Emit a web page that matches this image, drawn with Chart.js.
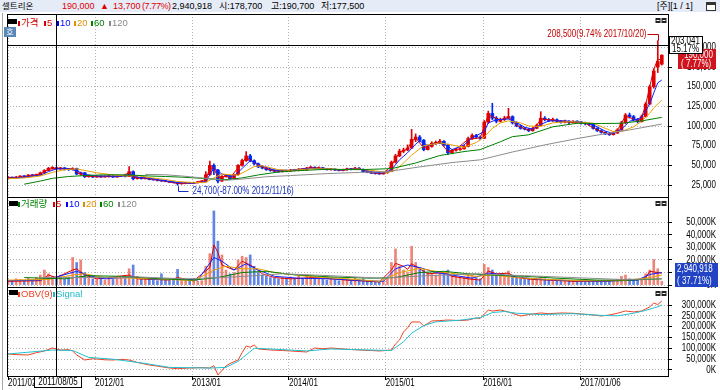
<!DOCTYPE html>
<html><head><meta charset="utf-8">
<script src="https://cdn.jsdelivr.net/npm/chart.js@4.4.1/dist/chart.umd.min.js"></script>
<style>
body{margin:0;background:#fff;width:720px;height:390px;overflow:hidden;position:relative;}
#c{position:absolute;left:0;top:0;}
#hdr{position:absolute;left:0;top:0;width:720px;height:12px;background:#e6ecf7;}
.t{position:absolute;top:0;white-space:nowrap;font:9px "Liberation Sans","Noto Sans CJK KR",sans-serif;line-height:12px;color:#000;}
.k{font-size:8.5px;}
.lg{position:absolute;white-space:nowrap;font:9.5px "Liberation Sans","Noto Sans CJK KR",sans-serif;line-height:10px;}
.sq{position:absolute;width:2px;height:5px;}
.btn{position:absolute;width:9px;height:5px;background:#000;}
#ho{position:absolute;left:4px;top:27px;width:12px;height:10px;background:#5b86b8;color:#fff;font:8px "Noto Sans CJK KR";line-height:10px;text-align:center;}
#lft{position:absolute;left:2px;top:13px;width:1px;height:377px;background:#a8a8a8;}
</style></head>
<body>
<canvas id="c" width="720" height="390"></canvas>
<div id="hdr"></div>
<span class="t k" style="left:2px">셀트리온</span>
<span class="t" style="left:62px;color:#e00000">190,000</span>
<span class="t" style="left:100px;color:#e00000">▲</span>
<span class="t" style="left:113px;color:#e00000">13,700</span>
<span class="t" style="left:142px;color:#e00000;letter-spacing:-0.4px">(7.77%)</span>
<span class="t" style="left:172px">2,940,918</span>
<span class="t" style="left:219px">시:178,700</span>
<span class="t" style="left:271px">고:190,700</span>
<span class="t" style="left:321px">저:177,500</span>
<span class="t" style="left:657px">[주][1 / 1]</span>
<div style="position:absolute;left:706px;top:2px;width:8px;height:7px;border:1px solid #333;background:#fff"><div style="height:2px;background:#333"></div></div>
<div id="lft"></div>

<div class="btn" style="left:8px;top:19px"></div>
<div class="sq" style="left:18px;top:21px;background:#d00000"></div><span class="lg" style="left:21px;top:18px;color:#d00000">가격</span>
<div class="sq" style="left:44px;top:21px;background:#e00000"></div><span class="lg" style="left:47px;top:18px;color:#e00000">5</span>
<div class="sq" style="left:57px;top:21px;background:#0000ff"></div><span class="lg" style="left:60px;top:18px;color:#0000ff">10</span>
<div class="sq" style="left:74px;top:21px;background:#e09000"></div><span class="lg" style="left:77px;top:18px;color:#e09000">20</span>
<div class="sq" style="left:91px;top:21px;background:#008000"></div><span class="lg" style="left:94px;top:18px;color:#008000">60</span>
<div class="sq" style="left:109px;top:21px;background:#888"></div><span class="lg" style="left:112px;top:18px;color:#888">120</span>
<div id="ho">호</div>

<div class="btn" style="left:9px;top:201px"></div>
<div class="sq" style="left:18px;top:202px;background:#008000"></div><span class="lg" style="left:21px;top:199px;color:#008000">거래량</span>
<div class="sq" style="left:53px;top:202px;background:#e00000"></div><span class="lg" style="left:56px;top:199px;color:#e00000">5</span>
<div class="sq" style="left:66px;top:202px;background:#0000ff"></div><span class="lg" style="left:69px;top:199px;color:#0000ff">10</span>
<div class="sq" style="left:83px;top:202px;background:#e09000"></div><span class="lg" style="left:86px;top:199px;color:#e09000">20</span>
<div class="sq" style="left:100px;top:202px;background:#008000"></div><span class="lg" style="left:103px;top:199px;color:#008000">60</span>
<div class="sq" style="left:118px;top:202px;background:#888"></div><span class="lg" style="left:121px;top:199px;color:#888">120</span>

<div class="btn" style="left:9px;top:290px"></div>
<div class="sq" style="left:18px;top:292px;background:#f04020"></div><span class="lg" style="left:21px;top:289px;color:#f04020">OBV(9)</span>
<div class="sq" style="left:53px;top:292px;background:#20b8c8"></div><span class="lg" style="left:56px;top:289px;color:#20b8c8">Signal</span>

<script>
// ---------------- DATA ----------------
const dates = [
"2011/02/08","2011/02/23","2011/03/08","2011/03/23","2011/04/08","2011/04/23","2011/05/08","2011/05/23","2011/06/08","2011/06/23","2011/07/08","2011/07/23","2011/08/08","2011/08/23","2011/09/08","2011/09/23","2011/10/08","2011/10/23","2011/11/08","2011/11/23","2011/12/08","2011/12/23",
"2012/01/08","2012/01/23","2012/02/08","2012/02/23","2012/03/08","2012/03/23","2012/04/08","2012/04/23","2012/05/08","2012/05/23","2012/06/08","2012/06/23","2012/07/08","2012/07/23","2012/08/08","2012/08/23","2012/09/08","2012/09/23","2012/10/08","2012/10/23","2012/11/08","2012/11/23","2012/12/08","2012/12/23",
"2013/01/08","2013/01/23","2013/02/08","2013/02/23","2013/03/08","2013/03/23","2013/04/08","2013/04/23","2013/05/08","2013/05/23","2013/06/08","2013/06/23","2013/07/08","2013/07/23","2013/08/08","2013/08/23","2013/09/08","2013/09/23","2013/10/08","2013/10/23","2013/11/08","2013/11/23","2013/12/08","2013/12/23",
"2014/01/08","2014/01/23","2014/02/08","2014/02/23","2014/03/08","2014/03/23","2014/04/08","2014/04/23","2014/05/08","2014/05/23","2014/06/08","2014/06/23","2014/07/08","2014/07/23","2014/08/08","2014/08/23","2014/09/08","2014/09/23","2014/10/08","2014/10/23","2014/11/08","2014/11/23","2014/12/08","2014/12/23",
"2015/01/08","2015/01/23","2015/02/08","2015/02/23","2015/03/08","2015/03/23","2015/04/08","2015/04/23","2015/05/08","2015/05/23","2015/06/08","2015/06/23","2015/07/08","2015/07/23","2015/08/08","2015/08/23","2015/09/08","2015/09/23","2015/10/08","2015/10/23","2015/11/08","2015/11/23","2015/12/08","2015/12/23",
"2016/01/08","2016/01/23","2016/02/08","2016/02/23","2016/03/08","2016/03/23","2016/04/08","2016/04/23","2016/05/08","2016/05/23","2016/06/08","2016/06/23","2016/07/08","2016/07/23","2016/08/08","2016/08/23","2016/09/08","2016/09/23","2016/10/08","2016/10/23","2016/11/08","2016/11/23","2016/12/08","2016/12/23",
"2017/01/08","2017/01/23","2017/02/08","2017/02/23","2017/03/08","2017/03/23","2017/04/08","2017/04/23","2017/05/08","2017/05/23","2017/06/08","2017/06/23","2017/07/08","2017/07/23","2017/08/08","2017/08/23","2017/09/08","2017/09/23","2017/10/08","2017/10/23","2017/11/08"];

const open = [
33800,34300,33800,35000,36000,35500,37500,36800,38000,40500,
43500,46200,47000,45500,46800,45300,44500,46000,39000,40500,
35500,36500,35000,36000,35200,35500,36200,35000,36000,36800,
35800,42000,33000,34500,33000,33500,32000,31500,30800,30100,
29500,28500,28000,26500,27000,27500,27200,27800,28500,29000,
38000,50000,44000,30000,36000,37000,33000,38000,50000,56000,
62000,56000,52000,48000,46500,44500,43500,42500,42000,43000,
42500,44000,43500,45000,44000,46500,47500,46000,47000,45500,
44500,45000,44000,43500,44500,45500,44800,46500,45000,42000,
41000,40000,39500,39000,40500,42000,54000,62000,68000,69500,
72000,83000,86000,82000,70000,74000,78000,79000,80500,76000,
66000,69000,70000,71000,74000,84000,88000,86000,84400,105000,
116000,110000,106000,108000,110000,112000,104000,100000,97000,96000,
94000,97000,101000,110000,108000,107000,108000,106000,105000,106000,
104500,105500,105000,104000,103000,102000,97000,94000,92000,90000,
89000,91000,95000,104000,114000,112000,108000,105500,112000,128000,
150000,175000,178700];
const high = [
35500,35200,36000,37000,36800,38500,38200,39000,41500,44500,
47500,48300,47800,47500,47200,46000,47000,46500,41500,41000,
37500,37000,37000,36500,36500,37000,36800,36800,37500,37200,
48300,43000,35500,35000,34500,34000,33000,32000,31500,30800,
30000,29200,28500,27800,28200,28000,28500,29200,29800,42000,
55500,52000,45000,37000,38500,37500,39000,51000,58000,67400,
64000,57000,53000,49500,47500,45500,44500,43500,44000,44000,
45000,45000,46000,45800,47500,49000,48200,48000,47500,46200,
46000,45500,44800,45200,46500,46200,47500,47000,45500,42800,
41800,40800,40200,41200,43000,55500,64000,70500,72000,76000,
95800,90000,88000,83000,76000,80000,81000,83000,81500,77000,
70500,71500,72500,75500,86000,90000,89500,87500,107000,119000,
128900,112000,110000,112500,122500,113000,105500,101000,98500,97000,
98000,102500,118200,112000,109500,110000,109000,107000,107500,106800,
107000,106500,106000,105000,104000,102500,98000,95000,93000,91000,
92500,96500,106000,116000,116500,113500,109500,114000,130000,152000,
173000,208500,190700];
const low = [
33000,33000,33500,34500,34800,35000,36000,36500,37500,40000,
43000,45000,44500,44800,44000,43500,44000,38000,37500,34500,
35000,34500,34800,34500,34800,35000,34500,34800,35500,35200,
35500,31400,32500,32500,32500,31500,31000,30000,29500,29000,
28000,27500,24700,26000,26500,26800,27000,27500,28000,28800,
37500,38000,27500,29500,35000,32000,32500,37500,49000,55000,
54500,50500,47000,45500,43500,42500,41500,41000,41500,41800,
42000,42800,43000,43500,43800,46000,45500,45500,44800,44000,
44000,43500,42800,43000,44000,44200,44500,44500,41500,40500,
39500,38800,38500,38800,40000,41800,53000,61000,66000,68500,
71500,80000,80000,68500,69500,73000,76500,78000,74500,63500,
65000,68000,69000,70500,73500,83000,84500,82500,84000,103000,
108000,104000,105000,107000,109000,102500,99000,96000,95000,92800,
93500,96500,100500,106500,105500,106000,104500,103500,104000,103000,
104000,103800,102500,101500,100500,96000,93000,91000,89000,88000,
88500,90500,94500,103000,110000,106500,104000,105000,111000,127000,
148000,168000,177500];
const close = [
34300,33800,35000,36000,35500,37500,36800,38000,40500,43500,
46200,47000,45500,46800,45300,44500,46000,39000,40500,35500,
36500,35000,36000,35200,35500,36200,35000,36000,36800,35800,
42000,33000,34500,33000,33500,32000,31500,30800,30100,29500,
28500,28000,26500,27000,27500,27200,27800,28500,29000,38000,
50000,44000,30000,36000,37000,33000,38000,50000,56000,62000,
56000,52000,48000,46500,44500,43500,42500,42000,43000,42500,
44000,43500,45000,44000,46500,47500,46000,47000,45500,44500,
45000,44000,43500,44500,45500,44800,46500,45000,42000,41000,
40000,39500,39000,40500,42000,54000,62000,68000,69500,72000,
83000,86000,82000,70000,74000,78000,79000,80500,76000,66000,
69000,70000,71000,74000,84000,88000,86000,84400,105000,116000,
110000,106000,108000,110000,112000,104000,100000,97000,96000,94000,
97000,101000,110000,108000,107000,108000,106000,105000,106000,104500,
105500,105000,104000,103000,102000,97000,94000,92000,90000,89000,
91000,95000,104000,114000,112000,108000,105500,112000,128000,150000,
170000,182000,190000];
// volume, thousands of shares
const volume = [
4000,3500,5000,4500,3800,5500,4200,6000,8000,12000,
9000,7000,6000,8000,5000,6500,22000,18000,20000,10000,
7000,5000,4500,5000,4000,6000,4500,5000,5500,6000,
13000,16000,7000,5000,4500,5000,4000,3500,9000,4000,
3500,4000,12500,4000,3500,3000,4000,3000,3500,15000,
25000,59000,35000,24000,12000,9000,10000,20000,23000,22000,
24000,15000,10000,8000,7000,6000,5500,5000,6000,5000,
6500,5000,7000,5500,8000,7000,5000,6000,4500,4000,
5000,4000,3500,4500,5000,4000,6000,4500,5000,3500,
3000,3000,2500,3500,6000,18000,28800,15000,12000,10000,
30900,18000,14000,12000,10000,9000,8000,9000,10000,12000,
8000,7000,6000,6500,9000,8000,6000,5000,16500,14000,
12000,8000,7000,7500,11200,7000,6000,5000,4500,5000,
4500,5000,7000,5000,4000,4500,3500,4000,3500,3000,
3500,3000,3500,3000,3000,3500,3000,3000,3500,3000,
3500,4500,7000,8000,5000,4500,4000,5500,9000,12000,
20400,13000,2941];

// price moving averages [date, value]
const ma5 = [["2011/02/08",34000],["2011/04/08",35200],["2011/06/08",39000],["2011/07/08",45000],["2011/08/08",46500],["2011/09/08",45500],["2011/10/08",45800],["2011/10/23",41000],["2011/11/23",36500],["2012/01/23",35500],["2012/04/08",36300],["2012/05/08",40500],["2012/05/23",35000],["2012/07/08",33600],["2012/09/08",30500],["2012/11/08",27000],["2013/01/08",27500],["2013/02/23",32000],["2013/03/08",46000],["2013/03/23",47000],["2013/04/08",34000],["2013/05/08",36000],["2013/05/23",34000],["2013/06/23",47000],["2013/07/23",60000],["2013/08/23",53500],["2013/09/23",47500],["2013/11/08",42800],["2014/01/08",43500],["2014/03/23",47000],["2014/05/23",45000],["2014/07/23",44000],["2014/09/23",45800],["2014/11/08",40500],["2014/12/23",39500],["2015/01/23",50000],["2015/02/23",66000],["2015/03/23",71000],["2015/04/08",80000],["2015/04/23",85000],["2015/05/23",72000],["2015/06/23",77500],["2015/07/23",80000],["2015/08/23",67500],["2015/09/23",70500],["2015/11/08",83000],["2015/12/23",85000],["2016/01/23",114000],["2016/02/08",112000],["2016/03/08",107500],["2016/04/08",111500],["2016/05/08",101000],["2016/06/23",94500],["2016/07/23",100500],["2016/08/08",109000],["2016/09/23",107500],["2016/11/23",105000],["2017/01/23",103500],["2017/03/08",95000],["2017/04/23",89500],["2017/05/23",95000],["2017/06/23",112500],["2017/07/23",109000],["2017/08/08",106000],["2017/08/23",111000],["2017/09/08",127000],["2017/09/23",150000],["2017/10/08",172000],["2017/10/23",185000],["2017/11/08",184000]];
const ma10 = [["2011/02/08",33500],["2011/04/08",34800],["2011/06/08",37500],["2011/07/08",42000],["2011/08/08",45500],["2011/09/23",45800],["2011/10/23",43000],["2011/11/23",38500],["2012/01/08",36500],["2012/04/08",36000],["2012/05/08",38500],["2012/06/08",35000],["2012/07/23",33500],["2012/09/08",31000],["2012/11/08",28000],["2013/01/08",27300],["2013/02/23",29500],["2013/03/08",38000],["2013/03/23",46500],["2013/04/23",39000],["2013/05/23",36000],["2013/06/08",36500],["2013/07/08",46000],["2013/08/08",56000],["2013/08/23",54000],["2013/09/23",49000],["2013/11/08",44000],["2014/01/08",43500],["2014/03/23",46500],["2014/05/23",45300],["2014/07/23",44200],["2014/09/23",45500],["2014/11/08",42000],["2014/12/23",40000],["2015/01/23",44500],["2015/02/23",57000],["2015/03/23",66000],["2015/04/23",77000],["2015/05/08",81000],["2015/06/08",75000],["2015/07/08",78000],["2015/08/08",77500],["2015/09/08",70000],["2015/10/23",76000],["2015/11/23",85000],["2016/01/08",93000],["2016/01/23",104000],["2016/02/23",108000],["2016/04/08",109000],["2016/05/08",104500],["2016/06/08",98500],["2016/07/08",96000],["2016/08/08",102000],["2016/09/08",106500],["2016/11/08",106500],["2017/01/08",105000],["2017/02/23",101500],["2017/04/08",93500],["2017/05/08",90500],["2017/06/08",96000],["2017/07/08",106000],["2017/08/08",109000],["2017/08/23",111000],["2017/09/23",128000],["2017/10/08",142000],["2017/10/23",155000],["2017/11/08",158500]];
const ma20 = [["2011/02/08",33000],["2011/04/08",34000],["2011/06/08",36500],["2011/07/23",41000],["2011/09/08",44500],["2011/10/23",45500],["2011/11/23",43500],["2012/01/08",40500],["2012/02/23",38500],["2012/04/23",36500],["2012/06/08",37000],["2012/07/23",34500],["2012/09/23",32000],["2012/11/08",29500],["2013/01/08",28000],["2013/02/23",28500],["2013/03/23",34000],["2013/04/23",39000],["2013/05/23",38000],["2013/06/23",37500],["2013/07/23",43000],["2013/08/23",48500],["2013/09/23",49500],["2013/10/23",47000],["2013/11/23",44500],["2014/01/08",43500],["2014/03/23",45500],["2014/05/23",45700],["2014/07/23",44500],["2014/09/23",45300],["2014/11/23",43000],["2015/01/08",41000],["2015/02/08",44000],["2015/03/08",53000],["2015/04/08",63000],["2015/05/23",75000],["2015/07/23",78500],["2015/09/23",75000],["2015/10/23",73000],["2015/12/08",79000],["2016/01/08",86000],["2016/02/08",97000],["2016/03/08",104000],["2016/04/08",106500],["2016/05/23",104000],["2016/06/23",100000],["2016/08/08",99500],["2016/09/23",104000],["2016/11/23",105500],["2017/01/08",105000],["2017/02/23",103500],["2017/04/08",97000],["2017/05/08",93000],["2017/06/08",93000],["2017/07/23",99000],["2017/08/23",106000],["2017/09/23",116000],["2017/10/08",123000],["2017/11/08",133000]];
const ma60 = [["2011/04/08",26000],["2011/06/08",30000],["2011/07/23",33500],["2011/09/23",35800],["2011/11/23",37000],["2012/01/23",37800],["2012/03/23",38000],["2012/05/23",37500],["2012/07/23",36500],["2012/09/23",35800],["2012/11/23",35000],["2013/01/23",33800],["2013/03/23",32500],["2013/05/08",31800],["2013/07/08",34000],["2013/09/08",37800],["2013/11/23",41500],["2014/01/23",43000],["2014/05/23",45000],["2014/09/23",44500],["2015/01/23",45800],["2015/04/23",53000],["2015/07/23",62500],["2015/10/23",67500],["2015/12/23",70000],["2016/03/08",80000],["2016/04/23",86500],["2016/06/23",88800],["2016/09/23",99000],["2016/12/23",103500],["2017/03/23",103200],["2017/06/08",103500],["2017/08/23",106500],["2017/11/08",111000]];
const ma120 = [["2012/07/08",38500],["2012/09/23",38000],["2012/11/23",36500],["2013/01/23",34500],["2013/03/23",32500],["2013/05/08",31000],["2013/07/23",33000],["2013/10/08",35500],["2014/01/08",37000],["2014/05/23",39500],["2014/09/23",41000],["2015/01/08",42000],["2015/05/08",48000],["2015/09/08",53500],["2015/12/23",57000],["2016/04/23",67000],["2016/08/23",76000],["2016/12/23",84000],["2017/03/08",88500],["2017/07/08",95000],["2017/11/08",102500]];

// volume moving averages (thousands)
const vma5 = [["2011/02/08",3000],["2011/06/08",3500],["2011/07/08",8000],["2011/08/08",6000],["2011/10/08",12000],["2011/10/23",13000],["2011/11/23",8000],["2012/01/08",5000],["2012/05/08",8000],["2012/06/08",5000],["2012/10/08",4000],["2012/11/08",6000],["2013/01/08",3500],["2013/03/08",14000],["2013/03/23",32000],["2013/04/08",26000],["2013/04/23",16000],["2013/06/08",12000],["2013/07/08",19000],["2013/08/08",16000],["2013/08/23",14000],["2013/09/23",9000],["2013/11/08",6000],["2014/01/08",5000],["2014/04/08",6000],["2014/08/08",4000],["2014/12/08",2500],["2015/01/23",12000],["2015/02/08",17300],["2015/03/08",15000],["2015/03/23",12500],["2015/04/08",17000],["2015/05/08",13000],["2015/06/08",9000],["2015/08/08",10000],["2015/09/08",7000],["2015/11/08",5000],["2015/12/23",4000],["2016/01/23",11200],["2016/02/23",9000],["2016/04/08",9500],["2016/05/08",6000],["2016/07/08",4500],["2016/09/08",4000],["2016/12/08",3000],["2017/03/08",3000],["2017/06/08",4000],["2017/08/08",4500],["2017/09/08",6000],["2017/09/23",11000],["2017/10/08",10500],["2017/11/08",9500]];
const vma10 = [["2011/02/08",3500],["2011/06/08",4000],["2011/08/08",6500],["2011/10/23",11000],["2011/12/08",7500],["2012/02/08",5000],["2012/05/23",6500],["2012/08/08",4500],["2012/11/08",5000],["2013/01/23",4000],["2013/03/23",22000],["2013/04/23",19000],["2013/06/08",12000],["2013/07/23",17000],["2013/09/08",12000],["2013/11/08",7000],["2014/02/08",5500],["2014/06/08",5000],["2014/10/08",3500],["2014/12/23",3000],["2015/02/08",13000],["2015/03/23",16000],["2015/05/08",14000],["2015/07/08",10000],["2015/09/08",8000],["2015/11/23",5500],["2016/01/23",9500],["2016/03/08",8500],["2016/05/08",6500],["2016/08/08",4500],["2016/12/08",3500],["2017/04/08",3000],["2017/08/08",4000],["2017/09/23",8500],["2017/11/08",10000]];
const vma20 = [["2011/02/08",4000],["2011/07/08",4500],["2011/10/08",8000],["2011/11/23",9000],["2012/02/08",6000],["2012/06/08",5500],["2012/10/08",4500],["2013/01/08",3500],["2013/03/23",12000],["2013/05/08",15000],["2013/07/08",13000],["2013/09/08",13000],["2013/11/08",10000],["2014/03/08",7000],["2014/08/08",5000],["2014/12/08",3000],["2015/02/23",10000],["2015/05/08",13300],["2015/07/08",11000],["2015/09/23",9000],["2015/12/08",7000],["2016/02/08",8000],["2016/05/08",6000],["2016/09/08",4500],["2017/01/08",3500],["2017/06/08",3500],["2017/09/08",5500],["2017/11/08",8000]];
const vma60 = [["2011/04/08",6000],["2011/09/08",5000],["2011/12/08",7500],["2012/04/08",7000],["2012/09/08",5000],["2013/01/08",4000],["2013/04/08",6000],["2013/07/08",10000],["2013/10/08",11000],["2014/01/08",8500],["2014/06/08",6500],["2014/11/08",5500],["2015/02/08",6000],["2015/05/08",10000],["2015/08/08",11000],["2015/11/08",9000],["2016/02/08",8000],["2016/06/08",7000],["2016/10/08",5500],["2017/03/08",4000],["2017/07/08",4000],["2017/11/08",5000]];
const vma120 = [["2011/06/08",6000],["2011/12/08",6000],["2012/06/08",6500],["2012/12/08",5000],["2013/06/08",6500],["2013/12/08",9000],["2014/06/08",7500],["2014/12/08",5500],["2015/06/08",7500],["2015/12/08",9000],["2016/06/08",7500],["2016/12/08",6000],["2017/06/08",4500],["2017/11/08",5000]];

// OBV and signal (thousands)
const obv = [["2011/02/08",73900],["2011/03/08",71000],["2011/04/23",69300],["2011/05/23",80000],["2011/06/23",87700],["2011/07/23",101600],["2011/08/23",92000],["2011/09/23",94000],["2011/10/08",87700],["2011/10/23",69300],["2011/11/23",46200],["2011/12/23",52000],["2012/01/08",50800],["2012/02/08",47000],["2012/03/08",46200],["2012/04/08",49000],["2012/05/08",46200],["2012/06/08",35000],["2012/07/23",23000],["2012/08/23",18000],["2012/10/08",9200],["2012/11/08",6000],["2012/12/23",9200],["2013/02/08",11000],["2013/03/08",9200],["2013/03/23",20000],["2013/04/08",-23000],["2013/05/08",18500],["2013/05/23",30000],["2013/06/23",46200],["2013/07/08",80000],["2013/07/23",110800],["2013/08/08",105000],["2013/08/23",115400],["2013/09/08",97000],["2013/10/23",92300],["2013/12/08",90000],["2014/01/08",87700],["2014/03/08",83100],["2014/04/08",101600],["2014/05/08",98000],["2014/06/08",101600],["2014/07/23",97000],["2014/09/23",92300],["2014/11/08",90000],["2014/12/08",87700],["2015/01/23",92300],["2015/02/08",120000],["2015/02/23",138500],["2015/03/08",175400],["2015/03/23",195000],["2015/04/08",221600],["2015/05/08",221600],["2015/05/23",203100],["2015/06/23",226200],["2015/07/23",228000],["2015/08/23",230800],["2015/10/08",228000],["2015/11/08",230800],["2015/12/08",240000],["2015/12/23",238000],["2016/01/23",277000],["2016/02/08",272000],["2016/03/08",277000],["2016/04/08",267800],["2016/05/23",249300],["2016/06/23",256000],["2016/08/08",263200],["2016/09/08",260000],["2016/10/23",263200],["2016/12/08",262000],["2017/01/08",258500],["2017/02/08",256000],["2017/03/23",249300],["2017/04/23",254000],["2017/05/23",262000],["2017/06/23",272400],["2017/07/23",268000],["2017/08/23",272400],["2017/09/23",290900],["2017/10/08",309300],["2017/10/23",302000],["2017/11/08",318000]];
const signal = [["2011/02/08",73900],["2011/07/23",92000],["2011/10/08",90000],["2011/12/08",58000],["2012/03/08",50000],["2012/07/08",30000],["2012/10/08",12000],["2013/03/08",9000],["2013/05/08",12000],["2013/06/23",40000],["2013/07/23",70000],["2013/08/23",100000],["2013/10/08",98000],["2014/03/08",88000],["2014/06/08",97000],["2014/10/08",93000],["2015/01/23",90000],["2015/03/08",130000],["2015/04/08",170000],["2015/05/23",205000],["2015/07/08",222000],["2015/10/08",230000],["2015/12/23",242000],["2016/02/08",265000],["2016/03/23",270000],["2016/05/08",262000],["2016/08/08",256000],["2016/12/08",260000],["2017/03/23",252000],["2017/05/23",250000],["2017/07/23",262000],["2017/09/08",275000],["2017/10/23",292000],["2017/11/08",300000]];

// axes
const timeTickDates = ["2011/02/08","2012/01/02","2013/01/02","2014/01/02","2015/01/02","2016/01/04","2017/01/06"];
const timeTickLabels = ["2011/02","2012/01","2013/01","2014/01","2015/01","2016/01","2017/01/06"];
const priceTicks = [25000,50000,75000,100000,125000,150000,175000,200000];
const volumeTicks = [0,10000,20000,30000,40000,50000];
const obvTicks = [0,50000,100000,150000,200000,250000,300000];

// crosshair / readouts
const crossDate = "2011/08/05";
const crossPrice = 203041, crossPct = "15.17%";
const lastPrice = 190000, lastPct = "( 7.77%)";
const lastVolume = 2940.918, lastVolText = "2,940,918", lastVolPct = "( 37.71%)";
const peakText = "208,500(9.74% 2017/10/20)";
const lowText = "24,700(-87.00% 2012/11/16)";

// ---------------- CHART ----------------
const toM = s => { const p = s.split('/').map(Number); return (p[0]-2011)*12 + (p[1]-1) + (p[2]-1)/30; };
const xs = dates.map(toM);
const UP = '#e00000', DN = '#0028f0';
const VUP = 'rgba(235,110,95,0.85)', VDN = 'rgba(70,110,225,0.85)';
const isUp = i => close[i] >= open[i];
const pts = arr => arr.map(([d, v]) => ({x: toM(d), y: v}));
const line = (label, arr, color, axis) => ({type:'line', label, data: pts(arr), yAxisID: axis, borderColor: color, borderWidth: 1, pointRadius: 0, tension: 0, order: 1});
const FONT = '"Liberation Sans",sans-serif';
Chart.defaults.font.family = FONT;
Chart.defaults.font.size = 10;
Chart.defaults.color = '#000';

// narrow (condensed) rendering of canvas text, as in the original terminal font
const SX = 0.8;
const cv = document.getElementById('c');
const c2d = cv.getContext('2d');
const P2D = CanvasRenderingContext2D.prototype;
c2d.fillText = function (t, x, y) { this.save(); this.translate(x, y); this.scale(SX, 1); P2D.fillText.call(this, t, 0, 0); this.restore(); };
c2d.measureText = function (t) { const m = P2D.measureText.call(this, t); return { width: m.width * SX, actualBoundingBoxAscent: m.actualBoundingBoxAscent, actualBoundingBoxDescent: m.actualBoundingBoxDescent, actualBoundingBoxLeft: m.actualBoundingBoxLeft * SX, actualBoundingBoxRight: m.actualBoundingBoxRight * SX }; };

const gridCommon = {color:'#b4b4b4', tickColor:'#000', tickLength:4, tickBorderDash:[], drawTicks:true};

const overlay = {
  id: 'overlay',
  afterDraw(chart) {
    const ctx = chart.ctx, ca = chart.chartArea, s = chart.scales;
    ctx.save();
    ctx.font = '10px ' + FONT;
    ctx.lineWidth = 1; ctx.strokeStyle = '#000';
    const L = Math.round(ca.left) + 0.5, R = Math.round(ca.right) + 0.5;
    [s.yP, s.yV, s.yO].forEach(sc => {
      ctx.strokeRect(L, Math.round(sc.top) + 0.5, R - L, Math.round(sc.bottom - sc.top));
      const by = Math.round(sc.top) + 4;
      [R - 13, R - 7].forEach(bx => { ctx.fillStyle = '#222'; ctx.fillRect(bx, by, 5, 5); ctx.fillStyle = '#fff'; ctx.fillRect(bx + 1, by + 2, 3, 1); });
    });
    // crosshair
    const cx = Math.round(s.x.getPixelForValue(toM(crossDate))) + 0.5;
    ctx.beginPath(); ctx.moveTo(cx, ca.top); ctx.lineTo(cx, ca.bottom); ctx.stroke();
    const cy = Math.round(s.yP.getPixelForValue(crossPrice)) + 0.5;
    ctx.beginPath(); ctx.moveTo(L, cy); ctx.lineTo(R, cy); ctx.stroke();
    // peak annotation
    let iMax = 0, iMin = 0;
    high.forEach((v, i) => { if (v > high[iMax]) iMax = i; });
    low.forEach((v, i) => { if (v < low[iMin]) iMin = i; });
    const px = Math.round(s.x.getPixelForValue(xs[iMax])) + 0.5, py = s.yP.getPixelForValue(high[iMax]);
    ctx.strokeStyle = '#c00000'; ctx.fillStyle = '#c00000';
    const ty = Math.round(py - 7) + 0.5;
    ctx.beginPath(); ctx.moveTo(px - 11, ty); ctx.lineTo(px, ty); ctx.lineTo(px, py); ctx.stroke();
    ctx.textAlign = 'right'; ctx.textBaseline = 'middle';
    ctx.fillText(peakText, px - 12, ty);
    // low annotation
    const lx = Math.round(s.x.getPixelForValue(xs[iMin])) + 0.5, ly = s.yP.getPixelForValue(low[iMin]);
    ctx.strokeStyle = '#1830c0'; ctx.fillStyle = '#1830c0';
    const lty = Math.round(ly + 6) + 0.5;
    ctx.beginPath(); ctx.moveTo(lx, ly + 1); ctx.lineTo(lx, lty); ctx.lineTo(lx + 10, lty); ctx.stroke();
    ctx.textAlign = 'left';
    ctx.fillText(lowText, lx + 14, lty);
    // right readout boxes
    const ry = s.yP.getPixelForValue(lastPrice);
    ctx.fillStyle = '#d0141e'; ctx.fillRect(678, Math.round(ry - 6), 38, 20);
    ctx.fillStyle = '#fff'; ctx.textAlign = 'left';
    ctx.fillText('190,000', 684, ry); ctx.fillText(lastPct, 681, ry + 9.5);
    const bT = Math.round(cy - 9.5);
    ctx.fillStyle = '#fff'; ctx.fillRect(669, bT, 33, 17);
    ctx.strokeStyle = '#000'; ctx.strokeRect(669.5, bT + 0.5, 33, 17);
    ctx.fillStyle = '#000';
    ctx.fillText(crossPrice.toLocaleString('en-US'), 671, bT + 5); ctx.fillText(crossPct, 672, bT + 13);
    const vy = s.yV.getPixelForValue(lastVolume);
    const vT = Math.round(Math.min(vy - 6, s.yV.bottom - 24));
    ctx.fillStyle = '#2244c4'; ctx.fillRect(675, vT, 43, 24);
    ctx.fillStyle = '#fff';
    ctx.fillText(lastVolText, 677, vT + 6.5); ctx.fillText(lastVolPct, 677, vT + 18);
    // date readout
    const dT = Math.round(ca.bottom);
    ctx.fillStyle = '#fff'; ctx.fillRect(cx - 22, dT, 47, 12);
    ctx.strokeStyle = '#000'; ctx.strokeRect(cx - 22, dT + 0.5, 47, 11);
    ctx.fillStyle = '#000'; ctx.textAlign = 'center';
    ctx.fillText(crossDate, cx + 1.5, dT + 6.5);
    ctx.restore();
  }
};

new Chart(cv, {
  type: 'bar',
  data: { datasets: [
    {label:'wick', data: xs.map((x, i) => ({x, y:[low[i], high[i]]})), yAxisID:'yP', barThickness:1, grouped:false, backgroundColor: c => isUp(c.dataIndex) ? UP : DN, order: 20},
    {label:'body', data: xs.map((x, i) => ({x, y:[open[i], close[i]]})), yAxisID:'yP', barThickness:3, minBarLength:1, grouped:false, backgroundColor: c => isUp(c.dataIndex) ? UP : DN, order: 19},
    line('120', ma120, '#8c8c8c', 'yP'),
    line('60', ma60, '#008000', 'yP'),
    line('20', ma20, '#e8a000', 'yP'),
    line('10', ma10, '#1020ff', 'yP'),
    line('5', ma5, '#e00000', 'yP'),
    {label:'vol', data: xs.map((x, i) => ({x, y: volume[i]})), yAxisID:'yV', barThickness:2, grouped:false, backgroundColor: c => isUp(c.dataIndex) ? VUP : VDN, order: 20},
    line('v120', vma120, '#8c8c8c', 'yV'),
    line('v60', vma60, '#008000', 'yV'),
    line('v20', vma20, '#e8a000', 'yV'),
    line('v10', vma10, '#1020ff', 'yV'),
    line('v5', vma5, '#e00000', 'yV'),
    line('signal', signal, '#20c0d0', 'yO'),
    line('obv', obv, '#f04020', 'yO')
  ]},
  options: {
    responsive: false, animation: false, devicePixelRatio: 1,
    layout: { padding: { left: 7, top: 14, right: 4, bottom: 0 } },
    plugins: { legend: { display: false }, tooltip: { enabled: false } },
    scales: {
      x: { type:'linear', min: toM("2011/02/04"), max: toM("2017/12/01"), offset:false, position:'bottom',
           afterBuildTicks: sc => { sc.ticks = timeTickDates.map(d => ({value: toM(d)})); },
           afterFit: sc => { sc.height = 14; },
           ticks: { autoSkip:false, maxRotation:0, minRotation:0, align:'start', padding:-3, callback: (v, i) => timeTickLabels[i] },
           grid: Object.assign({offset:false}, gridCommon),
           border: { display:false, dash:[1,2] } },
      yP: { type:'linear', position:'right', stack:'panels', stackWeight:183, min:9741, max:242445,
            afterBuildTicks: sc => { sc.ticks = priceTicks.map(v => ({value: v})); },
            afterFit: sc => { sc.width = 48; },
            ticks: { autoSkip:false, crossAlign:'far', padding:2, callback: v => v.toLocaleString('en-US') },
            grid: gridCommon, border: { display:false, dash:[1,2] } },
      yV: { type:'linear', position:'right', stack:'panels', stackWeight:90, min:-1500, max:70100,
            afterBuildTicks: sc => { sc.ticks = volumeTicks.map(v => ({value: v})); },
            afterFit: sc => { sc.width = 48; },
            ticks: { autoSkip:false, crossAlign:'far', padding:2, callback: v => v.toLocaleString('en-US') + 'K' },
            grid: gridCommon, border: { display:false, dash:[1,2] } },
      yO: { type:'linear', position:'right', stack:'panels', stackWeight:89, min:-27700, max:383100,
            afterBuildTicks: sc => { sc.ticks = obvTicks.map(v => ({value: v})); },
            afterFit: sc => { sc.width = 48; },
            ticks: { autoSkip:false, crossAlign:'far', padding:2, callback: v => v.toLocaleString('en-US') + 'K' },
            grid: gridCommon, border: { display:false, dash:[1,2] } }
    }
  },
  plugins: [overlay]
});
</script>
</body></html>
